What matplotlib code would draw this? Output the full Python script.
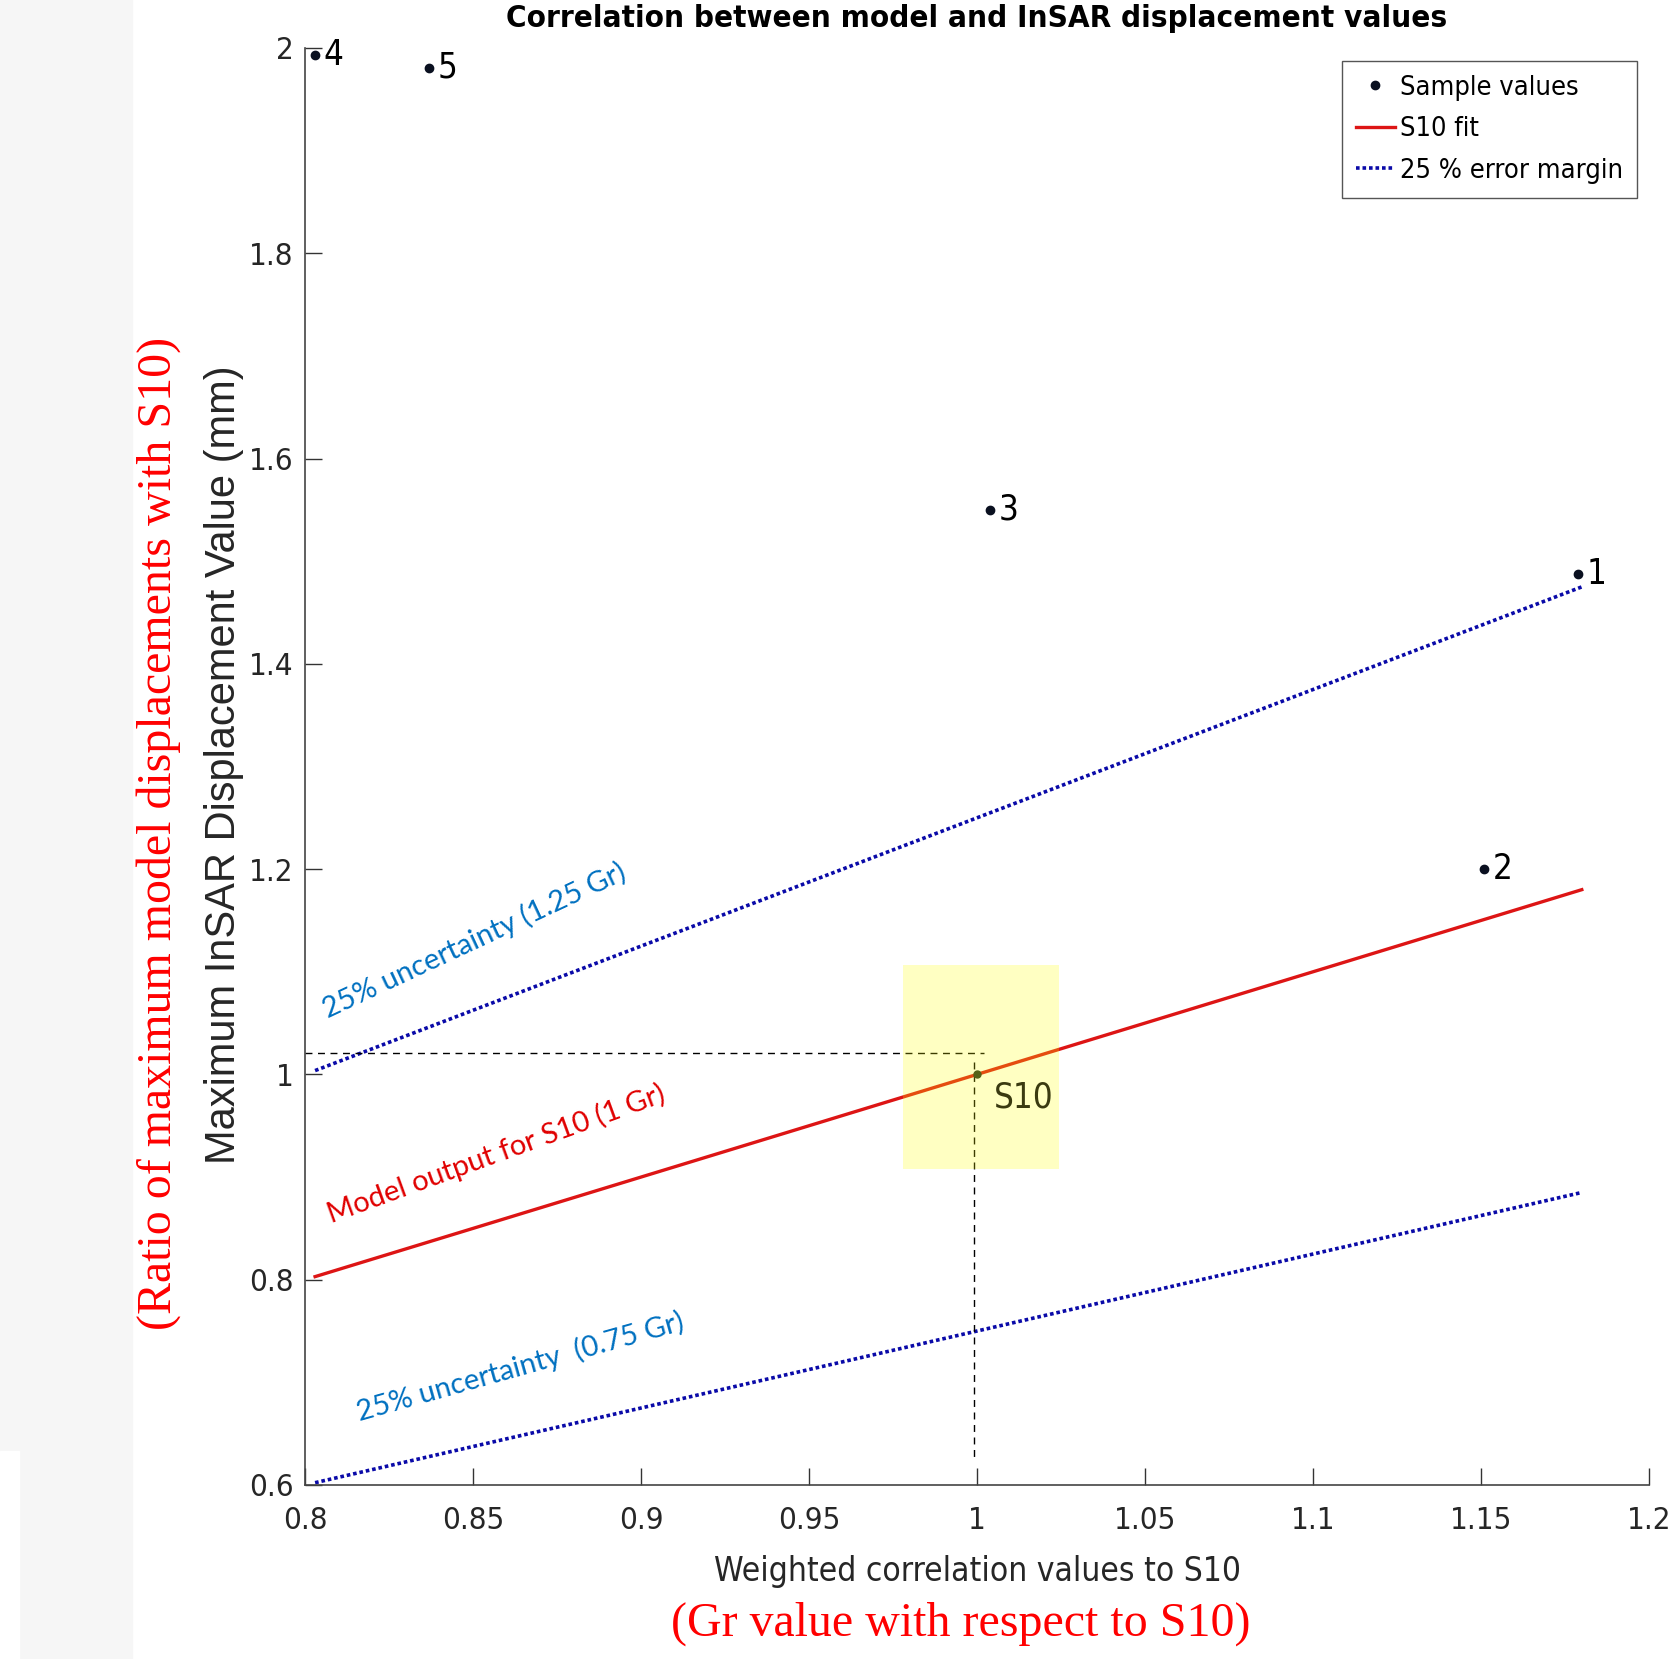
import numpy as np
import matplotlib
matplotlib.use("Agg")
import matplotlib.pyplot as plt
from matplotlib.patches import Rectangle

# sample points
sample_x = [1.179, 1.151, 1.004, 0.803, 0.837]
sample_y = [1.488, 1.200, 1.550, 1.993, 1.981]
sample_ids = ["1", "2", "3", "4", "5"]

# fit lines (Gr ratio)
fit_x = [0.803, 1.18]
fit_gain = 1.0
margin_gains = [1.25, 0.75]

s10_x, s10_y = 1.0, 1.0

x_ticks = [0.8, 0.85, 0.9, 0.95, 1.0, 1.05, 1.1, 1.15, 1.2]
x_ticklabels = ["0.8", "0.85", "0.9", "0.95", "1", "1.05", "1.1", "1.15", "1.2"]
y_ticks = [0.6, 0.8, 1.0, 1.2, 1.4, 1.6, 1.8, 2.0]
y_ticklabels = ["0.6", "0.8", "1", "1.2", "1.4", "1.6", "1.8", "2"]

NARROW = dict(family="DejaVu Sans", stretch="condensed")
SERIF = ["Liberation Serif", "DejaVu Serif"]
CAL = ["Lato", "DejaVu Sans"]

fig = plt.figure(figsize=(16.73, 16.59), dpi=100)
W, H = 1673, 1659
# grey strip at the left
fig.patches.append(Rectangle((0, 0), 132 / W, 1, transform=fig.transFigure,
                             color="#f6f6f6", zorder=0))
fig.patches.append(Rectangle((0, 0), 19 / W, 1 - 1451 / H, transform=fig.transFigure,
                             color="white", zorder=0))

ax = fig.add_axes([305 / W, 1 - 1485 / H, 1344 / W, 1437 / H])

fx = np.array(fit_x)
ax.plot(fx, fit_gain * fx, color="#dd1515", lw=2.4, label="S10 fit", zorder=2)
for i, g in enumerate(margin_gains):
    ax.plot(fx, g * fx, color="#0a0aa8", lw=2.6, ls=(0, (1, 0.8)),
            label="25 % error margin" if i == 0 else None, zorder=2)

ax.plot(sample_x, sample_y, "o", color="#0a1020", ms=6, label="Sample values", zorder=3)
for x, y, s in zip(sample_x, sample_y, sample_ids):
    ax.text(x + 0.0025, y, s, fontsize=25, va="center", ha="left", **NARROW)

# S10 reference point with guide lines
ax.plot([0.8, 1.002], [1.021, 1.021], color="black", lw=1.0, ls=(0, (5, 4)), zorder=2)
ax.plot([0.999, 0.999], [1.012, 0.623], color="black", lw=1.0, ls=(0, (5, 4)), zorder=2)
ax.plot([s10_x], [s10_y], "o", color="#203020", ms=5, zorder=3)
ax.add_patch(Rectangle((0.978, 0.908), 0.0463, 0.199, facecolor=(1, 1, 0),
                       alpha=0.24, edgecolor="none", zorder=4))
ax.text(1.005, 0.978, "S10", fontsize=25, color="#3a3a10",
        va="center", ha="left", zorder=5, **NARROW)

# annotations
ax.text(0.8505, 1.130, "25% uncertainty (1.25 Gr)", fontsize=21, family=CAL,
        color="#0070c0", rotation=25, ha="center", va="center", rotation_mode="anchor")
ax.text(0.857, 0.923, "Model output for S10 (1 Gr)", fontsize=21, family=CAL,
        color="#e00000", rotation=20, ha="center", va="center", rotation_mode="anchor")
ax.text(0.864, 0.715, "25% uncertainty  (0.75 Gr)", fontsize=21, family=CAL,
        color="#0070c0", rotation=15.7, ha="center", va="center", rotation_mode="anchor")

ax.set_xlim(0.8, 1.2)
ax.set_ylim(0.6, 2.0)
ax.set_xticks(x_ticks)
ax.set_xticklabels(x_ticklabels)
ax.set_yticks(y_ticks)
ax.set_yticklabels(y_ticklabels)
ax.tick_params(direction="in", length=12, width=1, color="#333333",
               labelsize=22.5, labelcolor="#262626")
ax.tick_params(axis="x", pad=15)
ax.tick_params(axis="y", pad=8)
for lab in ax.get_xticklabels() + ax.get_yticklabels():
    lab.set_family(NARROW["family"])
    lab.set_stretch(NARROW["stretch"])
for side in ["top", "right"]:
    ax.spines[side].set_visible(False)
for side in ["left", "bottom"]:
    ax.spines[side].set_color("#444444")
    ax.spines[side].set_linewidth(1.2)

ax.text(0.5, 1.0205, "Correlation between model and InSAR displacement values",
        transform=ax.transAxes, fontsize=22.5, weight="bold",
        ha="center", va="center", **NARROW)
ax.text(0.5, -0.0605, "Weighted correlation values to S10", transform=ax.transAxes,
        fontsize=24, color="#262626", ha="center", va="center", **NARROW)
ax.text(0.488, -0.0967, "(Gr value with respect to S10)", transform=ax.transAxes,
        fontsize=34.5, family=SERIF, color="red", ha="center", va="center")
ax.text(-0.0605, 0.501, "Maximum InSAR Displacement Value (mm)", transform=ax.transAxes,
        fontsize=30, family=["Liberation Sans", "DejaVu Sans"], color="#262626",
        rotation=90, ha="center", va="center")
ax.text(-0.109, 0.4537, "(Ratio of maximum model displacements with S10)",
        transform=ax.transAxes, fontsize=34.5, family=SERIF, color="red",
        rotation=90, ha="center", va="center")

handles, labels = ax.get_legend_handles_labels()
order = [labels.index("Sample values"), labels.index("S10 fit"), labels.index("25 % error margin")]
leg = ax.legend([handles[i] for i in order], [labels[i] for i in order],
                loc="upper right", bbox_to_anchor=(1637 / W, 1 - 61 / H),
                bbox_transform=fig.transFigure,
                prop={"family": NARROW["family"], "stretch": NARROW["stretch"], "size": 19.5},
                frameon=True, fancybox=False, edgecolor="#555555", framealpha=1,
                handlelength=1.45, handletextpad=0.2, borderpad=0.5, labelspacing=0.58,
                borderaxespad=0)
leg.get_frame().set_linewidth(1.0)

fig.savefig("out.png", dpi=100)
